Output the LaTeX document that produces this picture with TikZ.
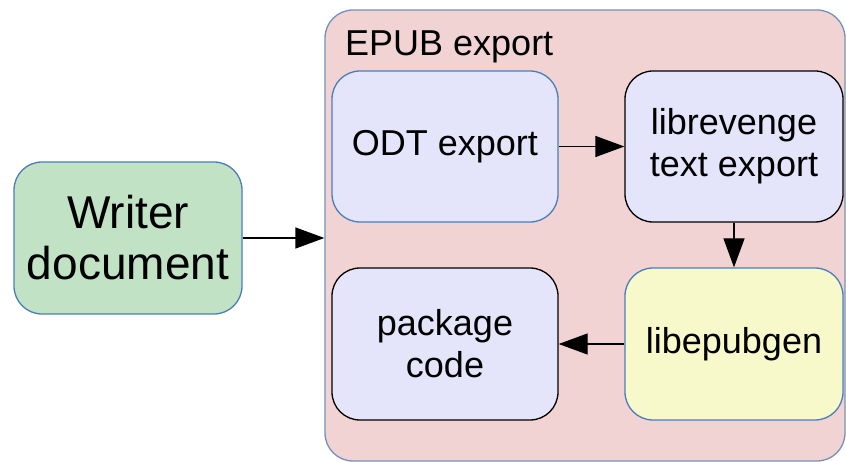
\documentclass[tikz,border=0pt]{standalone}
\usepackage{fontspec}
\setmainfont{Liberation Sans}
\usetikzlibrary{arrows.meta}
\definecolor{wgreen}{HTML}{C1E2C5}
\definecolor{epink}{HTML}{F2D3D3}
\definecolor{lav}{HTML}{E4E4FB}
\definecolor{yel}{HTML}{F8F9CA}
\definecolor{bblue}{HTML}{4A7EBB}
\definecolor{cblue}{HTML}{7391BD}
\tikzset{
  box/.style={draw, line width=1.3pt, rounded corners=28pt, inner sep=0pt, align=center, font=\fontsize{36}{42}\selectfont},
  conn/.style={line width=1.3pt, -{Triangle[length=29pt,width=21pt]}},
}
\begin{document}
\begin{tikzpicture}[x=1pt,y=-1pt]
\useasboundingbox (0,0) rectangle (846,462);
\node[draw=cblue, fill=epink, line width=1.3pt, rounded corners=28pt, minimum width=520pt, minimum height=451pt, inner sep=0pt] (epub) at (585,235.5) {};
\node[anchor=base west, inner sep=0pt, font=\fontsize{36}{42}\selectfont] (title) at (345,56) {EPUB export};
\node[box, draw=bblue, fill=wgreen, minimum width=228pt, minimum height=152pt, font=\fontsize{46}{51}\selectfont] (writer) at (128,238) {Writer\\document};
\node[box, draw=bblue, fill=lav, minimum width=226pt, minimum height=151pt] (odt) at (445,146.5) {ODT export};
\node[box, draw=black, fill=lav, minimum width=218pt, minimum height=151pt] (libre) at (734,146.5) {librevenge\\text export};
\node[box, draw=bblue, fill=yel, minimum width=218pt, minimum height=152pt] (epubgen) at (734,344) {libepubgen};
\node[box, draw=black, fill=lav, minimum width=226pt, minimum height=152pt] (pkg) at (445,344) {package\\code};
\draw[conn] (writer.east) -- (writer.east -| epub.west);
\draw[conn] (odt) -- (libre);
\draw[conn] (libre) -- (epubgen);
\draw[conn] (epubgen) -- (pkg);
\end{tikzpicture}
\end{document}
